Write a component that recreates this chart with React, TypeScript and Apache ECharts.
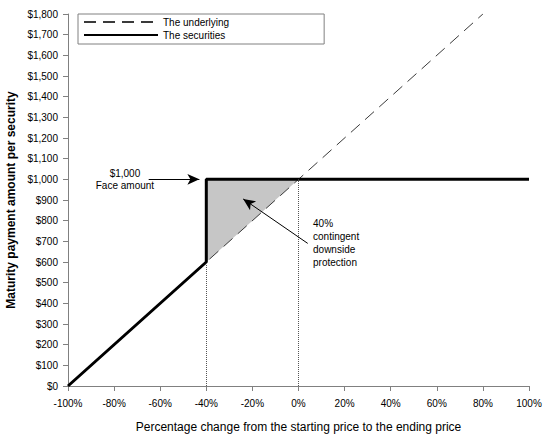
import React, { useEffect, useRef } from "react";
import * as echarts from "echarts";

// x: percentage change, y: payment amount ($)
const xTicks = [-100, -80, -60, -40, -20, 0, 20, 40, 60, 80, 100];
const underlyingData = [
  [-100, 0],
  [80, 1800],
];
const securitiesData = [
  [-100, 0],
  [-40, 600],
  [-40, 1000],
  [100, 1000],
];
const shadeVertices = [
  [-40, 600],
  [-40, 1000],
  [0, 1000],
];
const guideLines = [
  [[-40, 0], [-40, 600]],
  [[0, 0], [0, 1000]],
];
const faceArrow = [[-65, 1000], [-43, 1000]];
const protArrow = [[4, 690], [-24, 905]];
const faceLabelPos = [-75.3, 997];
const protLabelPos = [6.3, 690];
const faceLabel = "$1,000\nFace amount";
const protLabel = "40%\ncontingent\ndownside\nprotection";

const FONT = "Liberation Sans, Arial, Helvetica, sans-serif";

export default function App() {
  const ref = useRef<HTMLDivElement>(null);
  useEffect(() => {
    if (!ref.current) return;
    const chart = echarts.init(ref.current, null, { renderer: "svg" });
    const arrowLine = (pts: number[][]) => [
      { coord: pts[0], symbol: "none", lineStyle: { color: "#000", width: 1, type: "solid" } },
      { coord: pts[1], symbol: "arrow", symbolSize: [8, 12] },
    ];
    chart.setOption({
      animation: false,
      backgroundColor: "#fff",
      textStyle: { fontFamily: FONT },
      grid: { left: 68, right: 25, top: 14, bottom: 61, containLabel: false, outerBoundsMode: "none" },
      legend: {
        data: ["The underlying", "The securities"],
        orient: "vertical",
        left: 78,
        top: 14,
        itemWidth: 74,
        itemHeight: 10,
        itemGap: 3,
        padding: [3, 95, 4, 5],
        borderColor: "#808080",
        borderWidth: 1,
        itemStyle: { opacity: 0, color: "transparent", borderWidth: 0 },
        textStyle: { fontSize: 10, color: "#000", fontFamily: FONT },
        selectedMode: false,
      },
      xAxis: {
        type: "value",
        min: xTicks[0],
        max: xTicks[xTicks.length - 1],
        interval: 20,
        name: "Percentage change from the starting price to the ending price",
        nameLocation: "middle",
        nameGap: 35,
        nameTextStyle: { fontSize: 12, color: "#000", fontFamily: FONT },
        axisLine: { onZero: false, lineStyle: { color: "#808080", width: 1 } },
        axisTick: { length: 5, lineStyle: { color: "#808080" } },
        axisLabel: { fontSize: 10, color: "#000", margin: 12, formatter: (v: number) => `${v}%` },
        splitLine: { show: false },
      },
      yAxis: {
        type: "value",
        min: 0,
        max: 1800,
        interval: 100,
        name: "Maturity payment amount per security",
        nameLocation: "middle",
        nameGap: 50,
        nameTextStyle: { fontSize: 12, fontWeight: "bold", color: "#000", fontFamily: FONT },
        axisLine: { show: true, onZero: false, lineStyle: { color: "#808080", width: 1 } },
        axisTick: { show: true, length: 5, lineStyle: { color: "#808080" } },
        axisLabel: {
          fontSize: 10,
          color: "#000",
          margin: 10,
          formatter: (v: number) => "$" + v.toLocaleString("en-US"),
        },
        splitLine: { show: false },
      },
      series: [
        {
          type: "custom",
          z: 1,
          silent: true,
          data: [shadeVertices.flat()],
          encode: { x: [0, 2, 4], y: [1, 3, 5] },
          renderItem: (_params: any, api: any) => {
            const pts = shadeVertices.map((_, i) => api.coord([api.value(i * 2), api.value(i * 2 + 1)]));
            return { type: "polygon", shape: { points: pts }, style: { fill: "#c6c6c6" } };
          },
        },
        {
          name: "The underlying",
          type: "line",
          z: 2,
          data: underlyingData,
          symbol: "none",
          silent: true,
          lineStyle: { color: "#3a3a3a", width: 1, type: [12, 7] },
          itemStyle: { color: "#3a3a3a" },
          markPoint: {
            silent: true,
            symbol: "rect",
            symbolSize: 0,
            data: [
              {
                coord: faceLabelPos,
                label: { show: true, position: "inside", align: "center", verticalAlign: "middle", formatter: faceLabel, fontSize: 10, lineHeight: 12, color: "#000", fontFamily: FONT },
              },
              {
                coord: protLabelPos,
                label: { show: true, position: "inside", align: "left", verticalAlign: "middle", formatter: protLabel, fontSize: 10, lineHeight: 13, color: "#000", fontFamily: FONT },
              },
            ],
          },
        },
        {
          name: "The securities",
          type: "line",
          z: 3,
          data: securitiesData,
          symbol: "none",
          silent: true,
          lineStyle: { color: "#000", width: 3 },
          itemStyle: { color: "#000" },
          markLine: {
            silent: true,
            symbol: "none",
            label: { show: false },
            emphasis: { disabled: true },
            data: [
              ...guideLines.map((g) => [
                { coord: g[0], lineStyle: { color: "#555", width: 1, type: [1, 1] } },
                { coord: g[1] },
              ]),
              arrowLine(faceArrow),
              arrowLine(protArrow),
            ],
          },
        },
      ],
    });
    return () => chart.dispose();
  }, []);
  return (
    <div
      ref={ref}
      style={{ position: "fixed", left: 0, top: 0, width: 554, height: 447, background: "#fff" }}
    />
  );
}
